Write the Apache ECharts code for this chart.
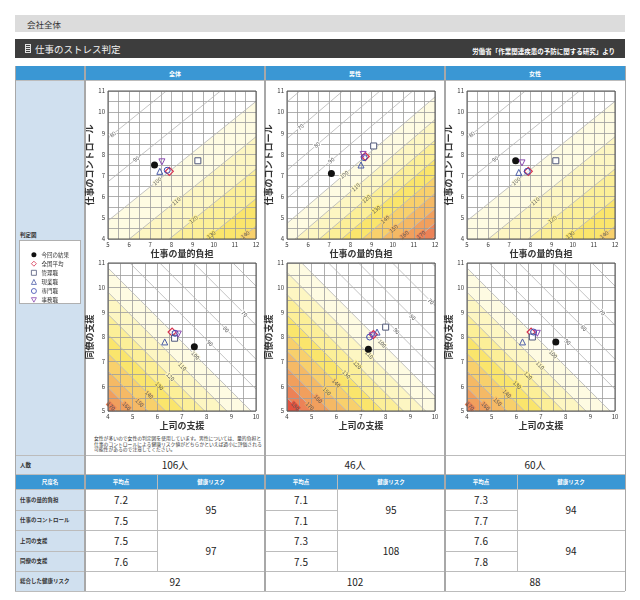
<!DOCTYPE html>
<html><head><meta charset="utf-8">
<script src="https://cdn.jsdelivr.net/npm/echarts@6/dist/echarts.min.js"></script>
<style>
html,body{margin:0;padding:0;background:#fff}
body{width:640px;height:600px;position:relative;overflow:hidden;font-family:"Noto Sans CJK JP","Noto Sans",sans-serif;-webkit-text-size-adjust:none}
.a{position:absolute;box-sizing:border-box;white-space:nowrap}
.c{display:flex;align-items:center;justify-content:center}
.l{display:flex;align-items:center;padding-left:5px}
</style></head><body>
<div id="layout"></div>
<div id="chart" style="position:absolute;left:0;top:0;width:640px;height:600px"></div>
<script>
// ---------------- data ----------------
const groups = ['全体', '男性', '女性'];
const headcount = ['106人', '46人', '60人'];
const scaleNames = ['仕事の量的負担', '仕事のコントロール', '上司の支援', '同僚の支援'];
const meanAll = [7.2, 7.5, 7.5, 7.6];
const meanMale = [7.1, 7.1, 7.3, 7.5];
const meanFemale = [7.3, 7.7, 7.6, 7.8];
const riskLoadControl = [95, 95, 94];
const riskSupport = [97, 108, 94];
const riskTotal = [92, 102, 88];
const categories = ['今回の結果', '全国平均', '管理職', '現業職', '専門職', '事務職'];
// [x, y] per category: 量-コントロール (x: 仕事の量的負担, y: 仕事のコントロール)
const pointsA_all = [[7.2, 7.5], [7.9, 7.2], [9.25, 7.7], [7.45, 7.2], [7.8, 7.25], [7.55, 7.65]];
const pointsA_male = [[7.1, 7.1], [8.7, 7.9], [9.1, 8.4], [8.5, 7.5], [8.65, 7.85], [8.6, 8.0]];
const pointsA_female = [[7.3, 7.7], [7.9, 7.2], [9.2, 7.7], [7.45, 7.15], [7.85, 7.2], [7.6, 7.6]];
// 職場の支援 (x: 上司の支援, y: 同僚の支援)
const pointsB_all = [[7.5, 7.6], [6.6, 8.2], [6.7, 7.95], [6.3, 7.8], [6.72, 8.15], [6.85, 8.12]];
const pointsB_male = [[7.3, 7.5], [7.5, 8.1], [8.0, 8.4], [7.65, 8.2], [7.35, 8.0], [7.45, 8.05]];
const pointsB_female = [[7.6, 7.8], [6.6, 8.2], [6.65, 8.0], [6.25, 7.8], [6.7, 8.2], [6.85, 8.15]];
// risk contour levels and coloured bands
const riskLevels = [50, 60, 70, 80, 90, 100, 110, 120, 130, 140, 150, 160, 170, 180, 190, 200];
const bandLevels = [100, 110, 120, 130, 140, 150, 160, 170, 180];
// risk model: [coef x, coef y, national mean x, national mean y]
const modelLoadControl = { male: [0.076, 0.089, 8.7, 7.9], female: [0.046, 0.057, 7.9, 7.2] };
const modelSupport = { male: [0.097, 0.097, 7.5, 8.1], female: [0.097, 0.097, 6.6, 8.2] };
const chartModel = ['female', 'male', 'female'];
const noteText = ['女性が多いので女性の判定図を使用しています。男性については、量的負担と',
  '仕事のコントロールによる健康リスク値がどちらかといえば過小に評価される',
  '可能性があるので注意してください。'];

// ---------------- layout (html table) ----------------
const BLUE = '#3a97d4', LB = '#d0e0ef', LINE = '#bcbcbc', SEP = '#a8a8a8';
const FF = '"Noto Sans CJK JP","Noto Sans",sans-serif';
const layout = document.getElementById('layout');
function box(x, y, w, h, css, html, cls) {
  const d = document.createElement('div');
  d.className = 'a ' + (cls || '');
  d.style.cssText = `left:${x}px;top:${y}px;width:${w}px;height:${h}px;` + (css || '');
  if (html != null) d.innerHTML = html;
  layout.appendChild(d);
  return d;
}
box(15, 15, 610, 17, 'background:#dcdcdc');
box(22, 15, 100, 17, 'font-size:8.5px;color:#333;', '会社全体', 'l');
box(15, 39, 610, 19, 'background:#3d3d3d');
box(25, 44, 6, 9, 'border:1px solid #e0e0e0;background:repeating-linear-gradient(#3d3d3d 0 1px,#e0e0e0 1px 2px)');
box(30, 39, 200, 19, 'font-size:9.5px;color:#f2f2f2;', '仕事のストレス判定', 'l');
box(330, 41, 285, 19, 'font-size:6.5px;font-weight:bold;color:#fff;justify-content:flex-end;', '労働省「作業関連疾患の予防に関する研究」より', 'c');

const colX = [85, 265, 445], colW = 180, subW = 72;
// header row
box(15, 66, 610, 14, 'background:' + BLUE);
groups.forEach((g, i) => box(colX[i], 66, colW, 14, 'color:#fff;font-size:6px;font-weight:bold;', g, 'c'));
// chart row
box(15, 80, 70, 375, 'background:' + LB);
box(18, 230, 60, 10, 'font-size:5.5px;font-weight:bold;color:#333;padding-left:2px', '判定図', 'l');
box(19, 240, 62, 64, 'background:#fff;border:1px solid #b0b0b0');
box(94, 435, 172, 18, 'font-size:4.8px;line-height:5.7px;color:#333;', noteText.join('<br>'));
// 人数 row
box(15, 455, 70, 19, 'background:' + LB + ';font-size:5.5px;font-weight:bold;color:#333', '人数', 'l');
headcount.forEach((h, i) => box(colX[i], 455, colW, 19, 'font-size:10px;color:#222', h, 'c'));
// sub header
box(15, 474, 610, 15, 'background:' + BLUE);
box(15, 474, 70, 15, 'color:#fff;font-size:5.5px;font-weight:bold', '尺度名', 'c');
colX.forEach(x => {
  box(x, 474, subW, 15, 'color:#fff;font-size:5.5px;font-weight:bold', '平均点', 'c');
  box(x + subW, 474, colW - subW, 15, 'color:#fff;font-size:5.5px;font-weight:bold', '健康リスク', 'c');
});
const rowY = [489, 510, 530, 551, 571, 591];
const means = [meanAll, meanMale, meanFemale];
scaleNames.forEach((n, r) => {
  box(15, rowY[r], 70, rowY[r + 1] - rowY[r], 'background:' + LB + ';font-size:5.5px;font-weight:bold;color:#333', n, 'l');
  colX.forEach((x, g) => box(x, rowY[r], subW, rowY[r + 1] - rowY[r], 'font-size:10px;color:#222', means[g][r].toFixed(1), 'c'));
});
colX.forEach((x, g) => {
  box(x + subW, rowY[0], colW - subW, rowY[2] - rowY[0], 'font-size:10px;color:#222', String(riskLoadControl[g]), 'c');
  box(x + subW, rowY[2], colW - subW, rowY[4] - rowY[2], 'font-size:10px;color:#222', String(riskSupport[g]), 'c');
  box(x, rowY[4], colW, rowY[5] - rowY[4], 'font-size:10px;color:#222', String(riskTotal[g]), 'c');
});
box(15, rowY[4], 70, 20, 'background:' + LB + ';font-size:5.5px;font-weight:bold;color:#333', '総合した健康リスク', 'l');
// lines
[80, 455, 474, 489, 530, 571, 591].forEach(y => box(15, y - 0.5, 610, 1, 'background:' + LINE));
[510, 551].forEach(y => { box(15, y - 0.5, 70, 1, 'background:' + LINE); colX.forEach(x => box(x, y - 0.5, subW, 1, 'background:' + LINE)); });
[15, 625].forEach(x => box(x - 0.5, 66, 1, 525, 'background:' + SEP));
colX.forEach(x => box(x - 1, 66, 2, 525, 'background:' + SEP));
colX.forEach(x => box(x + subW - 0.5, 474, 1, 97, 'background:' + LINE));

// ---------------- charts ----------------
const bandColors = ['#fefbe2', '#fdf6c2', '#fcef98', '#fae56c', '#f8d06c', '#f5b965', '#f19f5d', '#ec8257', '#e4533f'];
const markerStyles = [
  { symbol: 'circle', size: 7, fill: '#111', stroke: '#111', bw: 0 },
  { symbol: 'diamond', size: 8, fill: 'rgba(255,255,255,0.5)', stroke: '#d6304e', bw: 1.2 },
  { symbol: 'rect', size: 6, fill: '#fff', stroke: '#50587a', bw: 1 },
  { symbol: 'triangle', size: 6, fill: 'rgba(255,255,255,0)', stroke: '#4a5ca8', bw: 1 },
  { symbol: 'circle', size: 6, fill: 'rgba(255,255,255,0)', stroke: '#3848b0', bw: 1 },
  { symbol: 'path://M0,0L10,0L5,9Z', size: 6, fill: 'rgba(255,255,255,0)', stroke: '#8a48b0', bw: 1 }
];
const chartLayout = {
  left: [108, 287, 467], topA: 91, topB: 263, size: 148,
  labelPathA: [[[5.16, 9.02], [9.74, 4.19]], [[5.55, 9.4], [10.32, 4.19]], [[5.16, 9.02], [9.74, 4.19]]],
  labelPathB: [[[9.63, 9.03], [5.33, 5.37]], [[9.84, 9.45], [5.34, 5.56]], [[9.54, 9.05], [5.5, 5.6]]]
};

function clip(poly, cx, cy, c, sign) {
  const out = [];
  for (let i = 0; i < poly.length; i++) {
    const P = poly[i], Q = poly[(i + 1) % poly.length];
    const fp = sign * (cx * P[0] + cy * P[1] - c), fq = sign * (cx * Q[0] + cy * Q[1] - c);
    if (fp >= 0) out.push(P);
    if ((fp >= 0) !== (fq >= 0)) {
      const t = fp / (fp - fq);
      out.push([P[0] + t * (Q[0] - P[0]), P[1] + t * (Q[1] - P[1])]);
    }
  }
  return out;
}
function lineRect(cx, cy, c, xr, yr) {
  const pts = [];
  [xr[0], xr[1]].forEach(x => { const y = (c - cx * x) / cy; if (y >= yr[0] - 1e-9 && y <= yr[1] + 1e-9) pts.push([x, y]); });
  [yr[0], yr[1]].forEach(y => { const x = (c - cy * y) / cx; if (x >= xr[0] - 1e-9 && x <= xr[1] + 1e-9) pts.push([x, y]); });
  if (pts.length < 2) return null;
  pts.sort((p, q) => p[0] - q[0]);
  const a = pts[0], b = pts[pts.length - 1];
  if (Math.hypot(a[0] - b[0], a[1] - b[1]) < 1e-6) return null;
  return [a, b];
}

const grids = [], xAxes = [], yAxes = [], series = [];
function addChart(gi, left, top, xr, yr, xName, yName, gapX, lin, pts, path) {
  const idx = grids.length;
  const [cx, cy, k] = lin;
  grids.push({ left, top, width: chartLayout.size, height: chartLayout.size, show: true, backgroundColor: '#fff', borderWidth: 0, z: 0 });
  const axisBase = (min, max) => ({
    type: 'value', gridIndex: idx, min, max, interval: 0.5, z: 2,
    axisLine: { show: false }, axisTick: { show: false },
    splitLine: { show: true, lineStyle: { color: '#9c9c9c', width: 0.8 } },
    axisLabel: { fontSize: 6, color: '#333', margin: 3, fontFamily: FF,
      formatter: v => Math.abs(v - Math.round(v)) < 1e-6 ? String(Math.round(v)) : '' },
    nameLocation: 'middle', nameTextStyle: { fontSize: 9, fontWeight: 'bold', color: '#333', fontFamily: FF }
  });
  xAxes.push(Object.assign(axisBase(xr[0], xr[1]), { name: xName, nameGap: gapX }));
  yAxes.push(Object.assign(axisBase(yr[0], yr[1]), { name: yName, nameGap: 9 }));
  const rect = [[xr[0], yr[0]], [xr[1], yr[0]], [xr[1], yr[1]], [xr[0], yr[1]]];
  const mid = [(xr[0] + xr[1]) / 2, (yr[0] + yr[1]) / 2];
  // bands
  series.push({
    type: 'custom', xAxisIndex: idx, yAxisIndex: idx, z: 1, silent: true,
    data: bandLevels.map(() => mid),
    renderItem: (params, api) => {
      const i = params.dataIndex;
      let poly = clip(rect, cx, cy, Math.log(bandLevels[i] / 100) - k, 1);
      if (i + 1 < bandLevels.length) poly = clip(poly, cx, cy, Math.log(bandLevels[i + 1] / 100) - k, -1);
      if (poly.length < 3) return null;
      return { type: 'polygon', shape: { points: poly.map(p => api.coord(p)) }, style: { fill: bandColors[i] } };
    }
  });
  const bandColorAt = (p) => {
    const r = 100 * Math.exp(cx * p[0] + cy * p[1] + k);
    let col = '#ffffff';
    bandLevels.forEach((b, i) => { if (r >= b) col = bandColors[i]; });
    return col;
  };
  // contour lines + labels + border
  series.push({
    type: 'custom', xAxisIndex: idx, yAxisIndex: idx, z: 3, silent: true,
    data: riskLevels.map(() => mid),
    renderItem: (params, api) => {
      const lv = riskLevels[params.dataIndex];
      const c = Math.log(lv / 100) - k;
      const children = [];
      if (params.dataIndex === 0) {
        const p0 = api.coord([xr[0], yr[1]]), p1 = api.coord([xr[1], yr[0]]);
        children.push({ type: 'rect', z2: 10, shape: { x: p0[0], y: p0[1], width: p1[0] - p0[0], height: p1[1] - p0[1] },
          style: { fill: 'none', stroke: '#555', lineWidth: 1 } });
      }
      const seg = lineRect(cx, cy, c, xr, yr);
      if (seg) {
        const a = api.coord(seg[0]), b = api.coord(seg[1]);
        children.push({ type: 'line', shape: { x1: a[0], y1: a[1], x2: b[0], y2: b[1] }, style: { stroke: '#b4b4b4', lineWidth: 0.8 } });
        const P = path[0], D = [path[1][0] - path[0][0], path[1][1] - path[0][1]];
        const t = (c - cx * P[0] - cy * P[1]) / (cx * D[0] + cy * D[1]);
        let q = [P[0] + t * D[0], P[1] + t * D[1]];
        const minY = yr[0] + 0.2;
        if (q[1] < minY) q = [(c - cy * minY) / cx, minY];
        if (q[0] > xr[0] + 0.12 && q[0] < xr[1] - 0.15 && q[1] < yr[1] - 0.15) {
          const pq = api.coord(q);
          const ang = Math.atan2(-(b[1] - a[1]), b[0] - a[0]);
          children.push({ type: 'text', x: pq[0], y: pq[1], rotation: ang, z2: 5,
            style: { text: String(lv), fontSize: 5.5, fontFamily: FF, fill: '#555', align: 'center', verticalAlign: 'middle',
              backgroundColor: bandColorAt(q), padding: [0, 0.5] } });
        }
      }
      return { type: 'group', children };
    }
  });
  // markers
  categories.forEach((name, i) => {
    const m = markerStyles[i];
    series.push({
      type: 'scatter', name, xAxisIndex: idx, yAxisIndex: idx, z: 5 + (i === 0 ? 0 : 1),
      symbol: m.symbol, symbolSize: m.size,
      itemStyle: { color: m.fill, borderColor: m.stroke, borderWidth: m.bw, opacity: 1 },
      data: [pts[i]]
    });
  });
}
function linA(m) { const [a, b, x0, y0] = m; return [a, -b, -a * x0 + b * y0]; }
function linB(m) { const [a, b, x0, y0] = m; return [-a, -b, a * x0 + b * y0]; }
const pA = [pointsA_all, pointsA_male, pointsA_female];
const pB = [pointsB_all, pointsB_male, pointsB_female];
for (let g = 0; g < 3; g++) {
  addChart(g, chartLayout.left[g], chartLayout.topA, [5, 12], [4, 11], '仕事の量的負担', '仕事のコントロール', 7,
    linA(modelLoadControl[chartModel[g]]), pA[g], chartLayout.labelPathA[g]);
  addChart(g, chartLayout.left[g], chartLayout.topB, [4, 10], [5, 11], '上司の支援', '同僚の支援', 9,
    linB(modelSupport[chartModel[g]]), pB[g], chartLayout.labelPathB[g]);
}

const chart = echarts.init(document.getElementById('chart'));
chart.setOption({
  animation: false,
  grid: grids, xAxis: xAxes, yAxis: yAxes, series,
  legend: {
    orient: 'vertical', left: 26, top: 247, itemWidth: 5, itemHeight: 5, itemGap: 3.3, selectedMode: false,
    textStyle: { fontSize: 5.5, color: '#333', fontFamily: FF },
    data: categories.map((n, i) => {
      const m = markerStyles[i];
      return {
        name: n, icon: m.symbol,
        itemStyle: { color: i === 0 ? '#111' : '#fff', borderColor: m.stroke, borderWidth: i === 0 ? 0 : 0.8 }
      };
    })
  }
});
</script>
</body></html>
